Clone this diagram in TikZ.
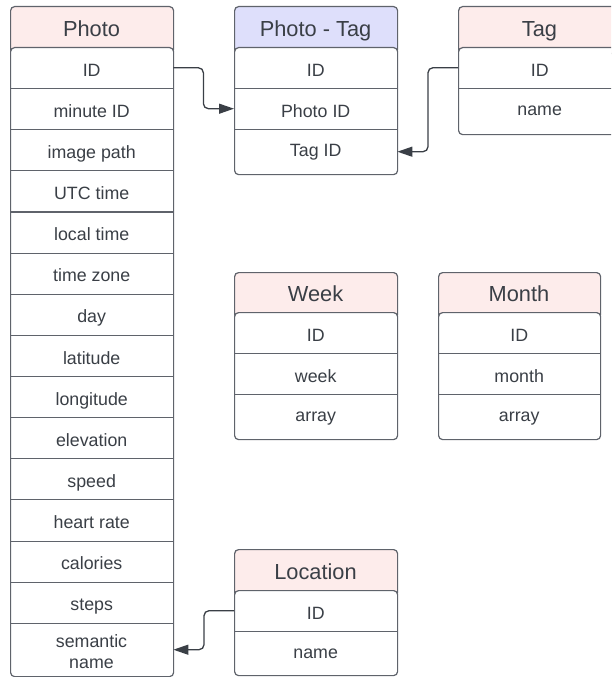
\documentclass[tikz,border=0pt]{standalone}
\usepackage{fontspec}
\setmainfont{Liberation Sans}
\usetikzlibrary{arrows.meta}

\definecolor{edge}{HTML}{5F636B}
\definecolor{ink}{HTML}{3A3F46}
\definecolor{headpink}{HTML}{FDECEB}
\definecolor{headblue}{HTML}{DEDFFB}

\tikzset{
  tblhead/.style={draw=edge, line width=1.2pt, rounded corners=4pt, anchor=north west,
    minimum width=163pt, inner sep=0pt},
  title/.style={text=ink, inner sep=0pt, text height=15.6pt, text depth=0pt,
    font=\fontsize{21.8}{24}\selectfont},
  tblbody/.style={draw=edge, line width=1.2pt, rounded corners=4pt, fill=white,
    anchor=north west, minimum width=163pt, inner sep=0pt},
  field/.style={anchor=north west, minimum width=163pt, inner sep=0pt,
    text height=16.7pt, text depth=0pt,
    font=\fontsize{17.8}{21}\selectfont, text=ink, align=center},
  lastfield/.style={field, text height=10pt},
  sepline/.style={draw=edge, line width=1.1pt},
  conn/.style={draw=ink, line width=1.3pt, rounded corners=5pt,
    -{Triangle[length=15pt,width=10pt]}},
}

\begin{document}
\begin{tikzpicture}[x=1pt, y=-1pt]
\useasboundingbox (0,0) rectangle (611,677);
\clip (0,0) rectangle (611,677);

% ---------- Photo ----------
\node[tblhead, fill=headpink, minimum height=47pt] (photo-h) at (10,6) {};
\node[title] (photo-t) at (91.5,29) {Photo};
\node[tblbody, minimum height=629pt] (photo-b) at (10,47) {};
\foreach \lbl [count=\i from 0] in {ID,minute ID,image path,UTC time,local time,time zone,day,latitude,longitude,elevation,speed,heart rate,calories,steps}{
  \node[field, minimum height=41.14pt] (photo-r\i) at (10,{47+41.14*\i}) {\lbl};
}
\foreach \i in {0,...,13}{
  \draw[sepline] (photo-r\i.south west) -- (photo-r\i.south east);
}
\node[anchor=north west, minimum width=163pt, minimum height=53pt, inner sep=0pt] (photo-sem) at (10,623) {};
\node[text=ink, inner sep=0pt, align=center, font=\fontsize{17.8}{21}\selectfont] (photo-semt) at (91.5,652) {semantic\\name};

% ---------- Photo - Tag ----------
\node[tblhead, fill=headblue, minimum height=47pt] (pt-h) at (234,6) {};
\node[title] (pt-t) at (315.5,29) {Photo - Tag};
\node[tblbody, minimum height=127pt] (pt-b) at (234,47) {};
\node[field, minimum height=41pt] (pt-id) at (234,47) {ID};
\node[field, minimum height=41pt] (pt-photoid) at (234,88) {Photo ID};
\node[lastfield, minimum height=45pt] (pt-tagid) at (234,129) {Tag ID};
\draw[sepline] (pt-id.south west) -- (pt-id.south east);
\draw[sepline] (pt-photoid.south west) -- (pt-photoid.south east);

% ---------- Tag ----------
\node[tblhead, fill=headpink, minimum height=47pt] (tag-h) at (458,6) {};
\node[title] (tag-t) at (539.5,29) {Tag};
\node[tblbody, minimum height=87pt] (tag-b) at (458,47) {};
\node[field, minimum height=41pt] (tag-id) at (458,47) {ID};
\node[lastfield, minimum height=45pt] (tag-name) at (458,88) {name};
\draw[sepline] (tag-id.south west) -- (tag-id.south east);

% ---------- Week ----------
\node[tblhead, fill=headpink, minimum height=46pt] (week-h) at (234,272) {};
\node[title] (week-t) at (315.5,294) {Week};
\node[tblbody, minimum height=127pt] (week-b) at (234,312) {};
\node[field, minimum height=41pt] (week-id) at (234,312) {ID};
\node[field, minimum height=41pt] (week-week) at (234,353) {week};
\node[lastfield, minimum height=45pt] (week-arr) at (234,394) {array};
\draw[sepline] (week-id.south west) -- (week-id.south east);
\draw[sepline] (week-week.south west) -- (week-week.south east);

% ---------- Month ----------
\node[tblhead, fill=headpink, minimum height=46pt, minimum width=162pt] (month-h) at (438,272) {};
\node[title] (month-t) at (519,294) {Month};
\node[tblbody, minimum height=127pt, minimum width=162pt] (month-b) at (438,312) {};
\node[field, minimum height=41pt, minimum width=162pt] (month-id) at (438,312) {ID};
\node[field, minimum height=41pt, minimum width=162pt] (month-month) at (438,353) {month};
\node[lastfield, minimum height=45pt, minimum width=162pt] (month-arr) at (438,394) {array};
\draw[sepline] (month-id.south west) -- (month-id.south east);
\draw[sepline] (month-month.south west) -- (month-month.south east);

% ---------- Location ----------
\node[tblhead, fill=headpink, minimum height=47pt] (loc-h) at (234,549) {};
\node[title] (loc-t) at (315.5,572) {Location};
\node[tblbody, minimum height=85pt] (loc-b) at (234,590) {};
\node[field, minimum height=41pt] (loc-id) at (234,590) {ID};
\node[lastfield, minimum height=44pt] (loc-name) at (234,631) {name};
\draw[sepline] (loc-id.south west) -- (loc-id.south east);

% ---------- relations ----------
\draw[conn] (photo-r0.east) -- ++(30,0) |- (pt-photoid.west);
\draw[conn] (tag-id.west) -- ++(-30,0) |- (pt-tagid.east);
\draw[conn] (loc-id.west) -- ++(-30,0) |- (photo-sem.east);
\end{tikzpicture}
\end{document}
